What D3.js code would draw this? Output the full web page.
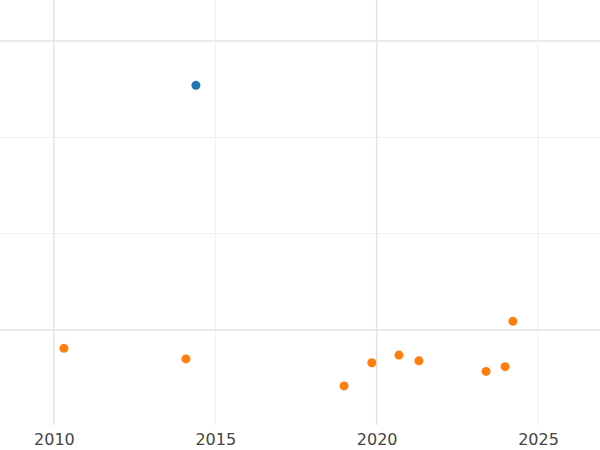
<!DOCTYPE html>
<html><head><meta charset="utf-8">
<script src="https://cdn.jsdelivr.net/npm/d3@7"></script>
<style>body{margin:0;background:#fff}</style>
</head><body>
<div id="chart"></div>
<script>
// Data
const blueX = [2014.40];
const blueY = [2.54];
const orangeX = [2010.31, 2014.09, 2018.99, 2019.85, 2020.69, 2021.31, 2023.39, 2023.98, 2024.22];
const orangeY = [-0.19, -0.30, -0.58, -0.34, -0.26, -0.32, -0.43, -0.38, 0.09];
const xTicks = [2010, 2015, 2020, 2025];
const yGrid = [0, 1, 2, 3];

const width = 600, height = 450, plotBottom = 425;

const svg = d3.select("#chart").append("svg")
  .attr("width", width).attr("height", height);

const x = d3.scaleLinear().domain([2008.33, 2026.92]).range([0, width]);
const y = d3.scaleLinear().domain([-0.986, 3.426]).range([plotBottom, 0]);

// gridlines
svg.append("g").selectAll("line").data(yGrid).join("line")
  .attr("x1", 0).attr("x2", width)
  .attr("y1", d => y(d)).attr("y2", d => y(d))
  .attr("stroke", d => (d === 0 || d === 3) ? "#e3e3e3" : "#efefef")
  .attr("stroke-width", d => (d === 0 || d === 3) ? 1.5 : 1);

svg.append("g").selectAll("line").data(xTicks).join("line")
  .attr("y1", 0).attr("y2", plotBottom)
  .attr("x1", d => x(d)).attr("x2", d => x(d))
  .attr("stroke", d => (d === 2010 || d === 2020) ? "#e3e3e3" : "#efefef")
  .attr("stroke-width", d => (d === 2010 || d === 2020) ? 1.5 : 1);

// x axis labels
const axis = svg.append("g")
  .attr("transform", `translate(0,${plotBottom})`)
  .call(d3.axisBottom(x).tickValues(xTicks).tickFormat(d3.format("d")).tickSize(0).tickPadding(9));
axis.select(".domain").remove();
axis.selectAll("text")
  .style("font-family", "DejaVu Sans, sans-serif")
  .style("font-size", "16px")
  .attr("fill", "#444");

// points
svg.append("g").selectAll("circle").data(orangeX.map((v, i) => [v, orangeY[i]])).join("circle")
  .attr("cx", d => x(d[0])).attr("cy", d => y(d[1])).attr("r", 4.5)
  .attr("fill", "#ff7f0e");

svg.append("g").selectAll("circle").data(blueX.map((v, i) => [v, blueY[i]])).join("circle")
  .attr("cx", d => x(d[0])).attr("cy", d => y(d[1])).attr("r", 4.5)
  .attr("fill", "#1f77b4");
</script>
</body></html>
